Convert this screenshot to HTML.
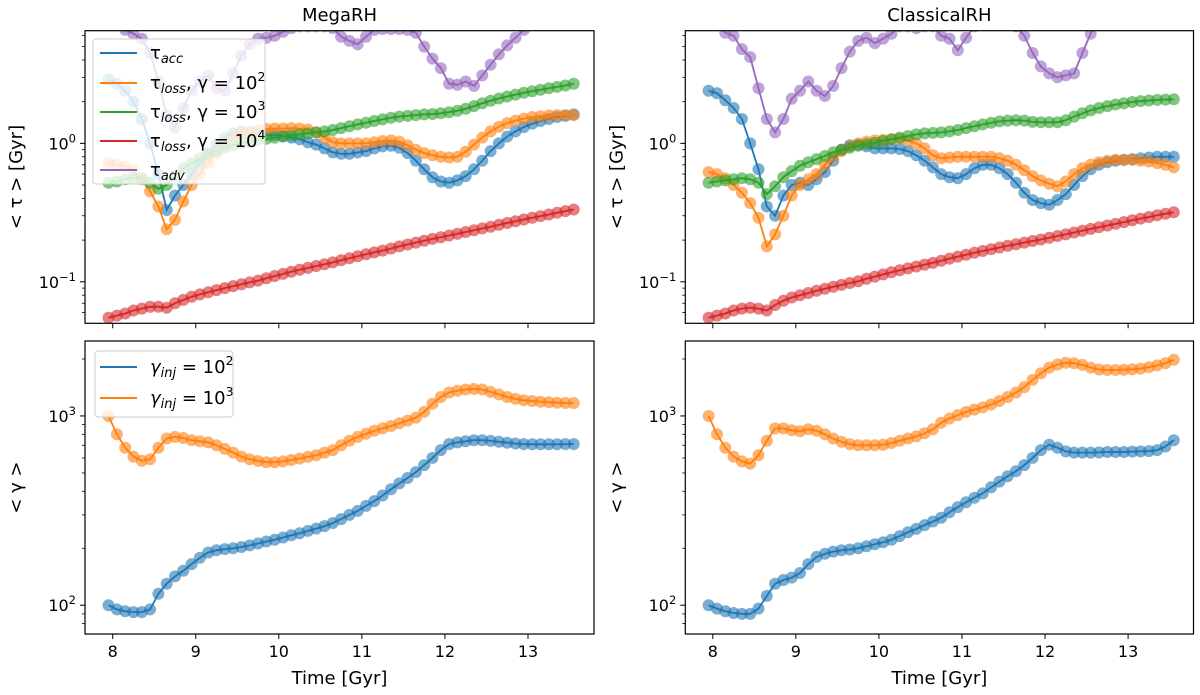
<!DOCTYPE html>
<html><head><meta charset="utf-8"><style>
body{margin:0;background:#fff;}
svg{display:block;font-family:"DejaVu Sans","Liberation Sans",sans-serif;}
</style></head><body>
<svg id="fig" width="1200" height="695" viewBox="0 0 1200 695" xmlns="http://www.w3.org/2000/svg"></svg>
<script>
const times = [];
for (let i = 0; i < 57; i++) times.push(+(7.95 + 0.1 * i).toFixed(2));
const xTicks = [8, 9, 10, 11, 12, 13];

const megaAcc = [2.9,2.7,2.4,2.0,1.5,1.0,0.6,0.33,0.42,0.5,0.6,0.72,0.85,0.98,1.1,1.18,1.22,1.2,1.17,1.15,1.15,1.13,1.1,1.07,1.02,0.98,0.92,0.86,0.84,0.84,0.86,0.88,0.92,0.95,0.96,0.93,0.85,0.75,0.65,0.57,0.53,0.52,0.54,0.58,0.65,0.75,0.88,1.0,1.12,1.22,1.31,1.39,1.45,1.5,1.55,1.58,1.62];
const megaLoss2 = [0.72,0.70,0.68,0.64,0.55,0.45,0.35,0.24,0.28,0.38,0.5,0.6,0.72,0.85,0.98,1.1,1.18,1.22,1.25,1.27,1.28,1.28,1.29,1.28,1.26,1.2,1.1,1.02,1.0,1.0,1.0,1.0,1.02,1.04,1.05,1.03,0.97,0.9,0.85,0.82,0.8,0.79,0.8,0.87,0.98,1.1,1.22,1.32,1.4,1.46,1.51,1.55,1.57,1.59,1.6,1.6,1.6];
const megaLoss3 = [0.52,0.53,0.55,0.56,0.56,0.52,0.47,0.50,0.58,0.66,0.72,0.78,0.83,0.88,0.93,0.97,1.0,1.03,1.06,1.08,1.1,1.12,1.14,1.16,1.18,1.2,1.22,1.25,1.29,1.33,1.37,1.41,1.45,1.49,1.53,1.56,1.58,1.6,1.62,1.63,1.65,1.68,1.72,1.78,1.86,1.95,2.03,2.11,2.18,2.25,2.32,2.38,2.44,2.5,2.56,2.62,2.7];
const megaLoss4 = [0.055,0.057,0.059,0.062,0.064,0.066,0.066,0.065,0.070,0.074,0.078,0.081,0.084,0.087,0.090,0.093,0.096,0.099,0.102,0.106,0.110,0.114,0.118,0.122,0.126,0.130,0.134,0.138,0.143,0.148,0.153,0.158,0.163,0.168,0.174,0.180,0.186,0.192,0.198,0.204,0.210,0.216,0.222,0.229,0.236,0.243,0.250,0.258,0.266,0.274,0.282,0.290,0.298,0.306,0.315,0.324,0.333];
const megaAdv = [9,8,6.6,6.2,5.7,4.5,2.8,1.6,1.3,1.8,2.4,2.8,3.1,2.5,2.4,3.2,4.3,5.2,5.7,5.8,6.0,6.4,6.8,7,7,7,7,6.8,5.9,5.5,5.2,5.9,6.6,6.7,6.7,6.7,6.6,6.3,5.0,4.1,3.5,2.7,2.65,2.8,2.6,3.1,3.7,4.4,5.1,5.8,6.6,7.5,8.5,9,9,9,9];

const clAcc = [2.4,2.3,2.05,1.8,1.5,1.0,0.65,0.35,0.3,0.42,0.5,0.52,0.5,0.55,0.62,0.75,0.9,0.97,0.98,0.95,0.92,0.92,0.92,0.91,0.88,0.82,0.75,0.67,0.6,0.57,0.56,0.6,0.66,0.7,0.7,0.66,0.6,0.52,0.44,0.39,0.37,0.36,0.39,0.43,0.5,0.58,0.65,0.7,0.73,0.75,0.76,0.77,0.78,0.79,0.8,0.8,0.8];
const clLoss2 = [0.62,0.60,0.56,0.50,0.44,0.37,0.29,0.18,0.22,0.3,0.42,0.5,0.55,0.6,0.7,0.8,0.88,0.95,1.0,1.03,1.05,1.06,1.07,1.08,1.05,1.0,0.92,0.82,0.78,0.79,0.8,0.8,0.8,0.8,0.8,0.78,0.75,0.7,0.64,0.58,0.54,0.51,0.49,0.53,0.6,0.66,0.7,0.73,0.75,0.76,0.76,0.76,0.75,0.74,0.72,0.7,0.67];
const clLoss3 = [0.52,0.53,0.54,0.55,0.56,0.55,0.52,0.43,0.49,0.57,0.63,0.69,0.73,0.77,0.81,0.86,0.90,0.93,0.96,0.99,1.01,1.04,1.07,1.10,1.13,1.16,1.18,1.19,1.20,1.22,1.25,1.29,1.33,1.37,1.41,1.44,1.46,1.47,1.46,1.43,1.42,1.42,1.42,1.47,1.56,1.65,1.73,1.80,1.86,1.91,1.95,1.99,2.02,2.04,2.06,2.07,2.08];
const clLoss4 = [0.055,0.057,0.059,0.062,0.064,0.065,0.064,0.062,0.068,0.073,0.077,0.080,0.083,0.086,0.089,0.092,0.095,0.098,0.101,0.105,0.109,0.113,0.117,0.121,0.125,0.129,0.133,0.137,0.142,0.147,0.152,0.157,0.162,0.167,0.172,0.177,0.182,0.187,0.192,0.197,0.202,0.208,0.214,0.220,0.227,0.234,0.241,0.248,0.255,0.262,0.270,0.278,0.286,0.294,0.302,0.310,0.318];
const clAdv = [9,8,6.3,6.0,4.8,4.2,2.5,1.5,1.2,1.5,2.1,2.4,2.8,2.4,2.2,2.6,3.5,4.6,5.5,5.8,5.3,5.7,6.2,7,7,6.8,7,7,6.0,5.7,4.7,5.8,7,7.5,7.5,7.5,7.5,7,6.0,4.5,3.6,3.2,3.0,3.1,3.2,4.5,6.2,8,9,9,9,9,9,9,9,9,9];

const megaG2 = [100,95,93,92,92,95,115,130,142,152,165,178,190,195,198,200,203,207,212,217,222,228,234,240,247,254,262,272,285,300,315,335,355,380,410,440,470,505,550,600,660,710,725,735,745,745,738,730,722,715,710,708,708,708,708,710,710];
const megaG3 = [1000,800,680,610,580,590,680,760,775,765,745,735,725,700,670,640,610,590,578,570,570,575,585,595,608,620,640,660,700,740,775,805,835,860,885,915,945,980,1050,1160,1260,1330,1360,1380,1390,1380,1340,1300,1260,1230,1210,1200,1190,1180,1175,1170,1170];
const clG2 = [100,96,93,91,90,90,96,112,130,136,140,148,165,180,187,192,195,197,200,205,210,215,222,232,243,253,265,277,290,310,330,350,370,390,420,450,480,510,550,600,660,705,680,650,640,640,640,642,645,645,645,648,650,652,660,690,745];
const clG3 = [1000,800,680,610,575,560,620,740,860,860,840,830,850,835,800,760,730,710,700,700,700,705,720,740,760,780,810,850,920,970,1010,1050,1080,1110,1150,1200,1260,1330,1420,1550,1680,1800,1870,1910,1900,1860,1800,1760,1750,1750,1755,1765,1780,1810,1850,1900,1980];

const C = {blue:'#1f77b4', orange:'#ff7f0e', green:'#2ca02c', red:'#d62728', purple:'#9467bd'};
const NS = 'http://www.w3.org/2000/svg';
const svg = document.getElementById('fig');
function mk(tag, attrs, parent) {
  const e = document.createElementNS(NS, tag);
  for (const k in attrs) e.setAttribute(k, attrs[k]);
  (parent || svg).appendChild(e);
  return e;
}

const panels = [
  {id:'mega-tau', x0:85, x1:594, t8:112.7, y0:30.7, y1:323.3, lmin:-1.30, lmax:0.814, ticks:[-1,0], showX:false, ylabel:'tau',
   series:[[megaAcc,C.blue,'tau-acc'],[megaLoss2,C.orange,'tau-loss-1e2'],[megaLoss3,C.green,'tau-loss-1e3'],[megaLoss4,C.red,'tau-loss-1e4'],[megaAdv,C.purple,'tau-adv']]},
  {id:'classical-tau', x0:685.3, x1:1193.5, t8:712.8, y0:30.7, y1:323.3, lmin:-1.30, lmax:0.814, ticks:[-1,0], showX:false, ylabel:'tau',
   series:[[clAcc,C.blue,'tau-acc'],[clLoss2,C.orange,'tau-loss-1e2'],[clLoss3,C.green,'tau-loss-1e3'],[clLoss4,C.red,'tau-loss-1e4'],[clAdv,C.purple,'tau-adv']]},
  {id:'mega-gamma', x0:85, x1:594, t8:112.7, y0:341, y1:634, lmin:1.848, lmax:3.396, ticks:[2,3], showX:true, ylabel:'gamma',
   series:[[megaG2,C.blue,'gamma-inj-1e2'],[megaG3,C.orange,'gamma-inj-1e3']]},
  {id:'classical-gamma', x0:685.3, x1:1193.5, t8:712.8, y0:341, y1:634, lmin:1.848, lmax:3.396, ticks:[2,3], showX:true, ylabel:'gamma',
   series:[[clG2,C.blue,'gamma-inj-1e2'],[clG3,C.orange,'gamma-inj-1e3']]}
];
const PX = 83.06;

panels.forEach((p, pi) => {
  const g = mk('g', {});
  
  
  const xs = t => p.t8 + (t - 8) * PX;
  const ys = v => p.y1 - (Math.log10(v) - p.lmin) / (p.lmax - p.lmin) * (p.y1 - p.y0);
  const cp = mk('clipPath', {id:'clip' + pi}, g);
  mk('rect', {x:p.x0, y:p.y0, width:p.x1 - p.x0, height:p.y1 - p.y0}, cp);
  const plot = mk('g', {'clip-path':'url(#clip' + pi + ')'}, g);
  p.series.forEach(([vals, col, nm]) => {
    const sg = mk('g', {}, plot);
    
    
    const pts = vals.map((v, i) => xs(times[i]).toFixed(1) + ',' + ys(v).toFixed(1)).join(' ');
    const ln = mk('polyline', {points:pts, fill:'none', stroke:col, 'stroke-width':1.8}, sg);
    
    
    vals.forEach((v, i) => {
      const c = mk('circle', {cx:xs(times[i]).toFixed(1), cy:ys(v).toFixed(1), r:6, fill:col, 'fill-opacity':0.6}, sg);
      
      
    });
  });
  const fr = mk('rect', {x:p.x0, y:p.y0, width:p.x1 - p.x0, height:p.y1 - p.y0, fill:'none', stroke:'#000', 'stroke-width':1.2}, g);
  
  
  xTicks.forEach(t => {
    const x = xs(t);
    const tk = mk('line', {x1:x, x2:x, y1:p.y1, y2:p.y1 + 5, stroke:'#000', 'stroke-width':1}, g);
    
    
    if (p.showX) {
      const tl = mk('text', {x:x, y:p.y1 + 23, 'text-anchor':'middle', 'font-size':16, fill:'#000'}, g);
      tl.textContent = String(t);
      
      
    }
  });
  for (let d = Math.floor(p.lmin); d <= Math.ceil(p.lmax); d++) {
    for (let m = 2; m <= 9; m++) {
      const l = d + Math.log10(m);
      if (l < p.lmin || l > p.lmax) continue;
      const y = ys(Math.pow(10, l));
      const mt = mk('line', {x1:p.x0 - 3, x2:p.x0, y1:y, y2:y, stroke:'#000', 'stroke-width':0.8}, g);
      
      
    }
  }
  p.ticks.forEach(d => {
    const y = ys(Math.pow(10, d));
    const mt = mk('line', {x1:p.x0 - 5, x2:p.x0, y1:y, y2:y, stroke:'#000', 'stroke-width':1}, g);
    
    
    const tl = mk('text', {x:p.x0 - 9, y:y + 6, 'text-anchor':'end', 'font-size':16, fill:'#000'}, g);
    
    
    tl.appendChild(document.createTextNode('10'));
    const sp = mk('tspan', {dy:-7, 'font-size':11.5}, tl);
    sp.textContent = d < 0 ? '\u2212' + Math.abs(d) : String(d);
  });
  const cy = (p.y0 + p.y1) / 2;
  const lx = p.x0 - 63;
  const yl = mk('text', {x:lx, y:cy, 'text-anchor':'middle', 'font-size':18, fill:'#000', transform:'rotate(-90 ' + lx + ' ' + cy + ')'}, g);
  yl.textContent = p.ylabel === 'tau' ? '< \u03c4 >  [Gyr]' : '< \u03b3 >';
  
  
  if (p.showX) {
    const xl = mk('text', {x:(p.x0 + p.x1) / 2, y:p.y1 + 50, 'text-anchor':'middle', 'font-size':18, fill:'#000'}, g);
    xl.textContent = 'Time [Gyr]';
    
    
  } else {
    const tt = mk('text', {x:(p.x0 + p.x1) / 2, y:21, 'text-anchor':'middle', 'font-size':18, fill:'#000'}, g);
    tt.textContent = pi === 0 ? 'MegaRH' : 'ClassicalRH';
    
    
  }
});

function legend(name, x, y, w, h, entries) {
  const lg = mk('g', {});
  
  
  mk('rect', {x:x, y:y, width:w, height:h, rx:3, fill:'#fff', 'fill-opacity':0.8, stroke:'#ccc', 'stroke-width':1}, lg);
  entries.forEach(([col, parts, yy]) => {
    const eg = mk('g', {}, lg);
    
    
    mk('line', {x1:100, x2:137, y1:yy, y2:yy, stroke:col, 'stroke-width':2}, eg);
    const t = mk('text', {x:150, y:yy + 6, 'font-size':18, fill:'#000'}, eg);
    parts.forEach(([txt, kind]) => {
      const sp = mk('tspan', {}, t);
      if (kind === 'sub') { sp.setAttribute('font-size', 13); sp.setAttribute('font-style', 'italic'); sp.setAttribute('dy', 4); }
      if (kind === 'sup') { sp.setAttribute('font-size', 12.5); sp.setAttribute('dy', -8); }
      if (kind === 'back') { sp.setAttribute('dy', -4); }
      if (kind === 'it') { sp.setAttribute('font-style', 'italic'); }
      sp.textContent = txt;
    });
  });
}
legend('tau-legend', 93, 39, 172, 145, [
  [C.blue, [['\u03c4',''],['acc','sub']], 53],
  [C.orange, [['\u03c4',''],['loss','sub'],[', \u03b3 = 10','back'],['2','sup']], 83],
  [C.green, [['\u03c4',''],['loss','sub'],[', \u03b3 = 10','back'],['3','sup']], 112],
  [C.red, [['\u03c4',''],['loss','sub'],[', \u03b3 = 10','back'],['4','sup']], 141],
  [C.purple, [['\u03c4',''],['adv','sub']], 170]
]);
legend('gamma-legend', 95, 351, 138, 66, [
  [C.blue, [['\u03b3','it'],['inj','sub'],[' = 10','back'],['2','sup']], 367],
  [C.orange, [['\u03b3','it'],['inj','sub'],[' = 10','back'],['3','sup']], 398]
]);
</script>
</body></html>
